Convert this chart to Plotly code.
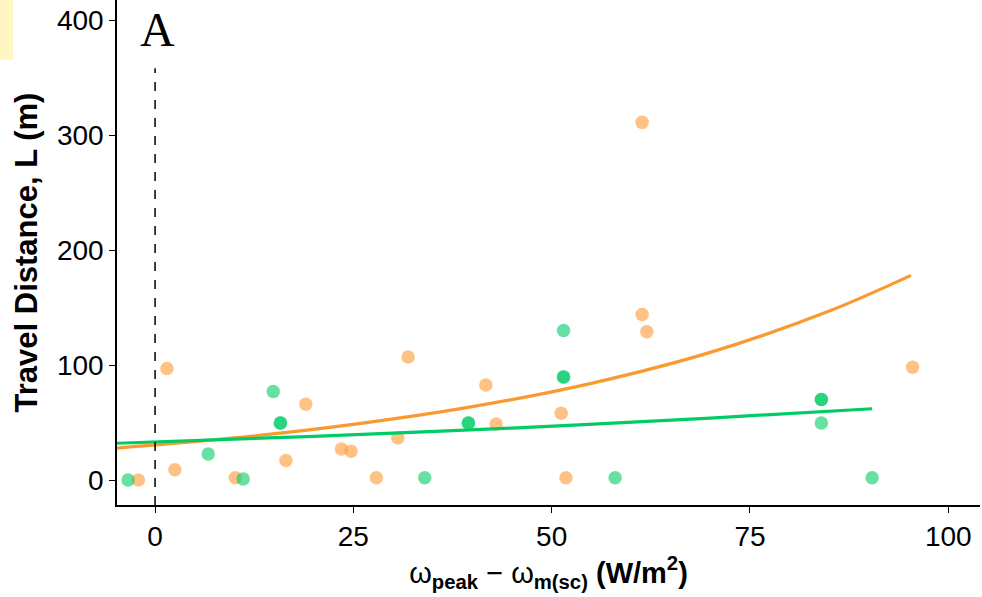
import plotly.graph_objects as go

# Orange series (points)
orange_x = [-2.1, 1.5, 2.5, 10.1, 16.5, 19.0, 23.5, 24.7, 27.9, 30.6, 31.9,
            41.7, 43.0, 51.2, 51.8, 61.4, 61.4, 62.0, 95.5]
orange_y = [0, 97, 9, 2, 17, 66, 27, 25, 2, 36.5, 107,
            82.6, 48.7, 58, 2, 311, 144, 129, 98]

# Green series (points; duplicates overlap)
green_x = [-3.4, 6.7, 11.1, 14.9, 15.8, 15.8, 34.0, 39.5, 39.5,
           51.5, 51.5, 51.5, 58.0, 84.0, 84.0, 84.0, 90.4]
green_y = [0, 22.6, 1, 77, 49.6, 49.6, 2, 49.6, 49.6,
           130, 89.6, 89.6, 2, 70, 70, 49.6, 2]

# Fitted curves
orange_fit_x = [-4.8, 10, 25, 40, 55, 70, 85, 95.3]
orange_fit_y = [27.8, 36.6, 48.4, 63.8, 84.1, 111, 147, 178]
green_fit_x = [-4.8, 20, 45, 70, 90.4]
green_fit_y = [32.0, 38.0, 45.2, 53.9, 62.0]

x_ticks = [0, 25, 50, 75, 100]
y_ticks = [0, 100, 200, 300, 400]

ORANGE = "#FF9A33"
GREEN = "#00CC66"
SANS = "Liberation Sans, Arial, sans-serif"

fig = go.Figure()
fig.add_trace(go.Scatter(x=orange_x, y=orange_y, mode="markers",
                         marker=dict(size=13.5, color=ORANGE, opacity=0.6, line=dict(width=0)),
                         showlegend=False))
fig.add_trace(go.Scatter(x=green_x, y=green_y, mode="markers",
                         marker=dict(size=13.5, color=GREEN, opacity=0.6, line=dict(width=0)),
                         showlegend=False))
fig.add_trace(go.Scatter(x=orange_fit_x, y=orange_fit_y, mode="lines",
                         line=dict(color="#F99A30", width=3.2, shape="spline"),
                         showlegend=False))
fig.add_trace(go.Scatter(x=green_fit_x, y=green_fit_y, mode="lines",
                         line=dict(color="#00CC66", width=3.2, shape="spline"),
                         showlegend=False))

# vertical dashed line at x = 0
fig.add_shape(type="line", xref="x", yref="y", x0=0, x1=0, y0=-21.7, y1=358,
              line=dict(color="black", width=1.5, dash="dash"))

# light yellow patch top-left
fig.add_shape(type="rect", xref="paper", yref="paper",
              x0=-117/863, x1=-104/863, y0=1-60/505, y1=1,
              fillcolor="#FFF7C2", line=dict(width=0), layer="below")

fig.add_annotation(x=0.3, y=392, xref="x", yref="y", text="A", showarrow=False,
                   font=dict(family="Liberation Serif, serif", size=48, color="black"))

font_axis = dict(family=SANS, size=28, color="black")

fig.update_layout(
    width=982, height=597,
    margin=dict(l=117, r=2, t=0, b=92),
    plot_bgcolor="white", paper_bgcolor="white",
    font=font_axis,
    xaxis=dict(range=[-4.8, 104.0], tickvals=x_ticks, ticks="outside", ticklen=6,
               tickwidth=1.3, tickcolor="black", showline=True, linecolor="black",
               linewidth=1.5, showgrid=False, zeroline=False, tickfont=font_axis,
               title=dict(text="ω<sub><b>peak</b></sub> − ω<sub><b>m(sc)</b></sub> <b>(W/m<sup>2</sup>)</b>",
                          font=dict(family=SANS, size=29, color="black"),
                          standoff=6)),
    yaxis=dict(range=[-21.7, 417.4], tickvals=y_ticks, ticks="outside", ticklen=6,
               tickwidth=1.3, tickcolor="black", showline=True, linecolor="black",
               linewidth=1.5, showgrid=False, zeroline=False, tickfont=font_axis,
               title=dict(text="<b>Travel Distance, L (m)</b>",
                          font=dict(family=SANS, size=31, color="black"),
                          standoff=10)),
)

fig.write_html("out.html")
